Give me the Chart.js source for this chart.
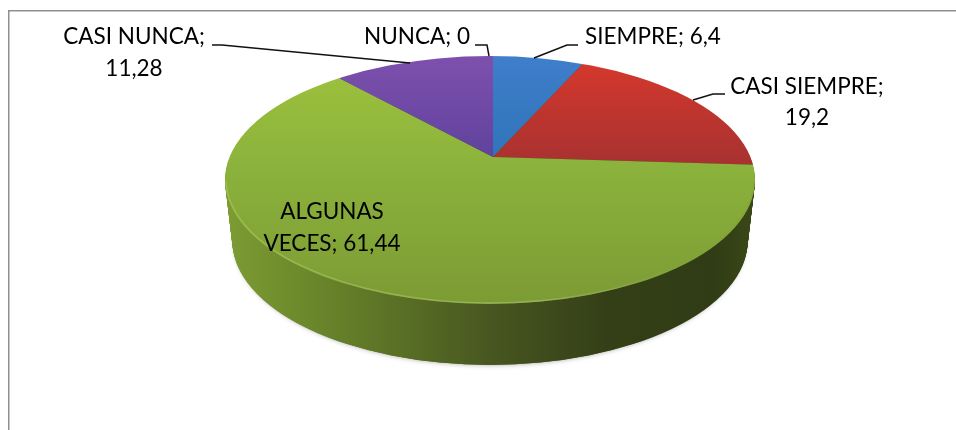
<!DOCTYPE html>
<html><head><meta charset="utf-8">
<style>html,body{margin:0;padding:0;background:#fff}canvas{display:block}</style>
<script src="https://cdn.jsdelivr.net/npm/chart.js@4"></script></head>
<body><canvas id="c" width="956" height="430"></canvas>
<script>
const categories = ['SIEMPRE','CASI SIEMPRE','ALGUNAS VECES','CASI NUNCA','NUNCA'];
const values = [6.4,19.2,61.44,11.28,0];
const labelLines = [['SIEMPRE; 6,4'],['CASI SIEMPRE;','19,2'],['ALGUNAS','VECES; 61,44'],['CASI NUNCA;','11,28'],['NUNCA; 0']];

const APEX={x:493,y:157}, RIM={x:490,y:180,rx:265,ry:124}, TILT=0.45, DEPTH=61, TAPER=0.12;
const labelAt=[[653,37],[807,87],[332,212],[134,37],[417,37]];
const LINE_H=[0,31,32,32,0];
const leaders=[[[578,45],[567,45],[534,58]],[[725,94],[713,94],[693,100]],null,[[212,45],[222,45],[410,63]],[[475,45],[487,45],[489,56]]];

function localY(y){return APEX.y+(y-APEX.y)/TILT;}
function vgrad(ctx,stops){
  const g=ctx.createLinearGradient(0,localY(56),0,localY(304));
  stops.forEach(s=>g.addColorStop(s[0],s[1]));return g;
}
function topFill(ctx,i){
  return vgrad(ctx,[
    [[0,'#3f7ecb'],[0.42,'#2f74b8'],[1,'#2f74b8']],
    [[0,'#d8382c'],[0.42,'#a93230'],[1,'#a93230']],
    [[0,'#9fc33c'],[0.45,'#8bb23c'],[1,'#7c9b34']],
    [[0,'#7e50ae'],[0.42,'#5f429c'],[1,'#5f429c']],
    [[0,'#7e50ae'],[1,'#5f429c']]
  ][i]);
}
function sideFill(ctx){
  const g=ctx.createLinearGradient(225,0,755,0);
  [[0,'#7d9c33'],[0.14,'#6d8a2c'],[0.36,'#566b24'],[0.52,'#465420'],[0.72,'#343f17'],[0.92,'#303c15'],[1,'#3a4817']].forEach(s=>g.addColorStop(s[0],s[1]));
  return g;
}
function paint(chart,ctx,fillFor,dy){
  const els=chart.getDatasetMeta(0).data;
  ctx.save();
  ctx.beginPath();ctx.ellipse(RIM.x,RIM.y+dy,RIM.rx-dy*TAPER,RIM.ry,0,0,Math.PI*2);ctx.clip();
  ctx.translate(APEX.x,APEX.y+dy);ctx.scale(1,TILT);ctx.translate(-APEX.x,-APEX.y);
  els.forEach((el,i)=>{
    const o=el.options;
    el.options=Object.assign({},o,{backgroundColor:fillFor(ctx,i),borderWidth:0});
    el.draw(ctx);
    el.options=o;
  });
  ctx.restore();
}
const pie3d={id:'pie3d',
  beforeDatasetsDraw(chart){
    const ctx=chart.ctx;
    // frame
    ctx.save();ctx.strokeStyle='#8f8f8f';ctx.lineWidth=1.5;
    ctx.beginPath();ctx.moveTo(8.75,430);ctx.lineTo(8.75,10.75);ctx.lineTo(956,10.75);ctx.stroke();ctx.restore();
    // soft edge of the side wall
    ctx.save();ctx.shadowColor='rgba(0,0,0,.35)';ctx.shadowBlur=5;ctx.fillStyle='#556b22';
    ctx.beginPath();ctx.ellipse(RIM.x,RIM.y+DEPTH,RIM.rx-DEPTH*TAPER-2,RIM.ry,0,0,Math.PI*2);ctx.fill();ctx.restore();
    const side=sideFill(ctx);
    for(let d=DEPTH;d>=1;d--) paint(chart,ctx,()=>side,d);
    paint(chart,ctx,topFill,0);
    // lit rim of the front edge
    ctx.save();ctx.lineWidth=1.5;
    const g=ctx.createLinearGradient(225,0,755,0);
    g.addColorStop(0,'rgba(170,200,90,.6)');g.addColorStop(.6,'rgba(165,190,105,.6)');g.addColorStop(1,'rgba(120,150,50,.2)');
    ctx.strokeStyle=g;ctx.beginPath();ctx.ellipse(RIM.x,RIM.y-1,RIM.rx-1,RIM.ry,0,0.02,Math.PI-0.02);ctx.stroke();ctx.restore();
    return false;
  },
  afterDraw(chart){
    const ctx=chart.ctx;
    ctx.save();
    ctx.strokeStyle='#111';ctx.lineWidth=1.5;
    leaders.forEach(l=>{if(!l)return;ctx.beginPath();l.forEach((p,i)=>i?ctx.lineTo(p[0],p[1]):ctx.moveTo(p[0],p[1]));ctx.stroke();});
    ctx.fillStyle='#000';ctx.font='22.5px Lato';ctx.textAlign='center';ctx.textBaseline='middle';
    labelLines.forEach((ls,i)=>ls.forEach((t,j)=>ctx.fillText(t,labelAt[i][0],labelAt[i][1]+j*LINE_H[i])));
    ctx.restore();
  }
};
new Chart(document.getElementById('c'),{
  type:'pie',
  data:{labels:categories,datasets:[{data:values,backgroundColor:['#3f7ecb','#c0342c','#8db43c','#6f48a5','#6f48a5'],borderWidth:0,radius:760}]},
  options:{responsive:false,animation:false,
    layout:{padding:{left:30,bottom:116,top:0,right:0}},
    plugins:{legend:{display:false},tooltip:{enabled:false},title:{display:false}},
    events:[]},
  plugins:[pie3d]
});
</script></body></html>
